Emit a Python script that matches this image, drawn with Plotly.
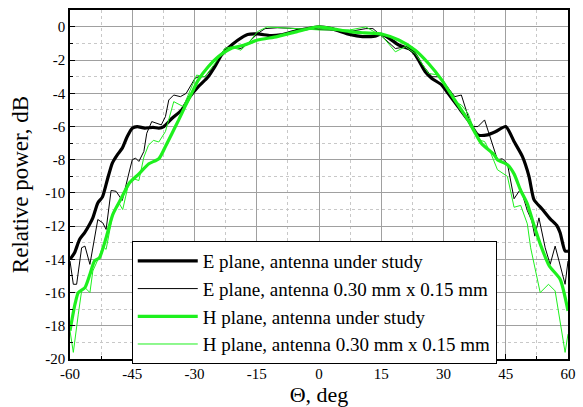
import plotly.graph_objects as go

# E plane, antenna under study
e_x = [-60, -58.9, -57.7, -56.5, -55.3, -54.5, -53.3, -52.2, -51, -49.8, -48.6, -47.4, -46.2, -45, -43.8, -42, -40, -38.6, -37.4,
       -35.4, -33.1, -31.1, -29.1, -26.7, -25.1, -23.5, -22, -19.6, -17.2, -14.8, -11.7, -9.3, -5.3, -1.5, 0, 3, 7.4, 10.5,
       13.5, 14.9, 17, 19.2, 22.4, 24, 25.6, 27.2, 29.6, 31.1, 33.5, 35.9, 38.3, 40.6, 42.6, 45, 47, 49, 50.6, 51.8, 53.7,
       55.7, 57.3, 58.1, 59.3, 60]
e_y = [-14.0, -13.6, -12.8, -12.4, -11.9, -11.5, -10.6, -10.25, -9.2, -8.2, -7.7, -7.3, -6.6, -6.1, -6.0, -6.1, -6.05, -6.1, -6.0,
       -5.5, -5.0, -4.2, -3.6, -3.0, -2.4, -1.7, -1.3, -0.8, -0.45, -0.42, -0.52, -0.48, -0.22, -0.05, 0.0, -0.1, -0.45, -0.58,
       -0.55, -0.44, -0.7, -1.09, -1.4, -2.0, -2.7, -3.1, -3.5, -4.0, -4.8, -5.6, -6.5, -6.5, -6.3, -6.0, -6.9, -7.8, -9.0, -10.4, -10.95,
       -11.56, -11.96, -12.4, -13.5, -13.5]

# E plane, antenna 0.30 mm x 0.15 mm
et_x = [-60, -59.2, -58.4, -57.2, -56.4, -55.2, -53.3, -52.1, -51.3, -50.1, -48.9, -47.4, -45.8, -45, -44.2, -43.4, -42.2, -41.5,
        -40.3, -39.1, -38, -37, -36.2, -35, -33.4, -32, -29.9, -29, -27.5, -25.1, -22.7, -21, -18.8, -16.8, -14.8, -13, -10, -5,
        0, 5, 8, 11.3, 13, 15.3, 17, 18.4, 20.8, 23.2, 25.6, 27.2, 28.8, 30, 32.7, 34.3, 36.7, 38.3, 39.9, 41.4, 43, 44.2, 45.4,
        47, 48.6, 50.2, 51.3, 52, 53, 54.5, 55.7, 56.9, 59.3, 60]
et_y = [-14.1, -15.5, -15.5, -13.3, -13.2, -14.3, -11.6, -11.8, -12.2, -9.85, -9.9, -10.45, -8.8, -8.0, -7.9, -8.1, -7.5, -6.4,
        -5.7, -5.8, -5.9, -5.4, -4.4, -4.1, -4.2, -4.0, -3.1, -3.0, -3.0, -2.3, -1.3, -1.2, -1.3, -0.9, -0.4, -0.1, -0.05, -0.1,
        -0.15, -0.2, -0.25, -0.1, -0.1, -0.6, -1.0, -1.3, -1.2, -1.7, -2.5, -3.0, -3.0, -3.3, -4.2, -4.1, -6.0, -6.0, -5.6, -6.83,
        -8.0, -7.94, -8.24, -10.35, -9.75, -11.06, -11.7, -12.6, -11.5, -13.3, -14.3, -13.2, -15.5, -14.1]

# H plane, antenna under study
h_x = [-60, -58.8, -58, -56.4, -55.2, -54.1, -52.9, -51.3, -49.7, -47.7, -45.7, -43.4, -41, -38.6, -37, -35.4, -33.8, -32.3,
       -30.7, -29.1, -26.7, -24.3, -21.2, -18, -14.8, -10.1, -5.3, -1, 0, 3, 7.4, 11, 15.3, 19.2, 23.2, 26.4, 29.6, 32.7,
       35.9, 39.1, 42.2, 43, 45.4, 47, 48.6, 50.2, 51.5, 53.5, 55.5, 58.1, 60]
h_y = [-18.3, -16.7, -16.0, -15.7, -14.9, -14.1, -13.9, -12.7, -11.3, -10.35, -9.4, -8.85, -8.24, -7.94, -7.2, -6.4, -5.6, -4.8,
       -4.0, -3.2, -2.4, -1.8, -1.3, -1.09, -0.79, -0.58, -0.28, -0.02, 0.0, -0.1, -0.28, -0.36, -0.44, -0.79, -1.4, -2.2, -3.2, -4.4,
       -5.6, -7.0, -7.7, -8.0, -8.3, -8.85, -9.85, -10.65, -11.7, -13.2, -14.4, -15.2, -17.1]

# H plane, antenna 0.30 mm x 0.15 mm
ht_x = [-60, -59.2, -58, -57.2, -56.4, -55.2, -54.5, -52.9, -52.1, -51.3, -49.7, -48.1, -47.3, -45.8, -44.6, -43.4, -42.2, -41.1,
        -39.9, -38.6, -37, -35, -32.7, -30.7, -29.5, -27.5, -25.1, -22.7, -21.2, -18.8, -16.8, -14.8, -12.5, -6.9, 0, 7.4, 11.3,
        15.3, 18.4, 20.8, 23.2, 26.4, 28.8, 29.9, 32.7, 34.3, 35.9, 38.3, 39.9, 41.4, 43, 45.4, 47, 48.6, 50.2, 51, 53.3, 55.3,
        56.9, 59.3, 60]
ht_y = [-18.3, -19.6, -17.3, -15.9, -15.7, -16.0, -14.7, -13.8, -13.2, -13.4, -11.3, -10.65, -11.0, -9.35, -9.15, -9.25, -7.84, -7.13,
        -6.83, -6.93, -6.3, -4.5, -4.8, -3.6, -2.9, -3.0, -2.2, -1.3, -1.2, -1.4, -0.9, -0.28, 0.0, -0.08, -0.18, -0.18, 0.0,
        -0.58, -1.5, -1.19, -1.6, -2.8, -2.9, -3.2, -4.5, -4.7, -5.2, -6.8, -6.9, -7.6, -8.6, -9.0, -10.86, -10.75, -11.86, -13.3, -16.0, -15.5,
        -15.9, -19.6, -18.5]

x_ticks = [-60, -45, -30, -15, 0, 15, 30, 45, 60]
y_ticks = [0, -2, -4, -6, -8, -10, -12, -14, -16, -18, -20]

names = ["E plane, antenna under study", "E plane, antenna 0.30 mm x 0.15 mm",
         "H plane, antenna under study", "H plane, antenna 0.30 mm x 0.15 mm"]

fig = go.Figure()
fig.add_trace(go.Scatter(x=e_x, y=e_y, mode="lines", name=names[0],
                         line=dict(color="black", width=3.2, shape="spline", smoothing=0.6)))
fig.add_trace(go.Scatter(x=et_x, y=et_y, mode="lines", name=names[1],
                         line=dict(color="black", width=1)))
fig.add_trace(go.Scatter(x=h_x, y=h_y, mode="lines", name=names[2],
                         line=dict(color="#1ef01e", width=3.2, shape="spline", smoothing=0.6)))
fig.add_trace(go.Scatter(x=ht_x, y=ht_y, mode="lines", name=names[3],
                         line=dict(color="#1ef01e", width=1)))

font_family = "Liberation Serif"

fig.update_layout(
    width=583, height=407,
    margin=dict(l=70, r=7, t=10, b=48),
    paper_bgcolor="white", plot_bgcolor="white",
    font=dict(family=font_family, color="black", size=15),
    showlegend=True,
    legend=dict(x=0.124, y=0.338, xanchor="left", yanchor="top",
                bgcolor="white", bordercolor="black", borderwidth=1,
                font=dict(family=font_family, size=19), tracegroupgap=0,
                itemwidth=60),
    xaxis=dict(range=[-60, 60], tickvals=x_ticks, ticktext=[str(v) for v in x_ticks],
               showgrid=True, gridcolor="#a0a0a0", gridwidth=1,
               minor=dict(dtick=7.5, showgrid=True, gridcolor="#c8c8c8", griddash="dot", ticks="inside", ticklen=3),
               showline=True, linecolor="black", linewidth=1.5, mirror=True,
               ticks="inside", ticklen=5, tickcolor="black", zeroline=False,
               title=dict(text="Θ, deg", font=dict(family=font_family, size=22), standoff=2),
               tickfont=dict(family=font_family, size=15)),
    yaxis=dict(range=[-20, 1.02], tickvals=y_ticks, ticktext=[str(v) for v in y_ticks],
               showgrid=True, gridcolor="#a0a0a0", gridwidth=1,
               minor=dict(dtick=1, showgrid=True, gridcolor="#c8c8c8", griddash="dot", ticks="inside", ticklen=3),
               showline=True, linecolor="black", linewidth=1.5, mirror=True,
               ticks="inside", ticklen=5, tickcolor="black", zeroline=False,
               title=dict(text="Relative power, dB", font=dict(family=font_family, size=23), standoff=10),
               tickfont=dict(family=font_family, size=15)),
)

fig.write_html("out.html")
